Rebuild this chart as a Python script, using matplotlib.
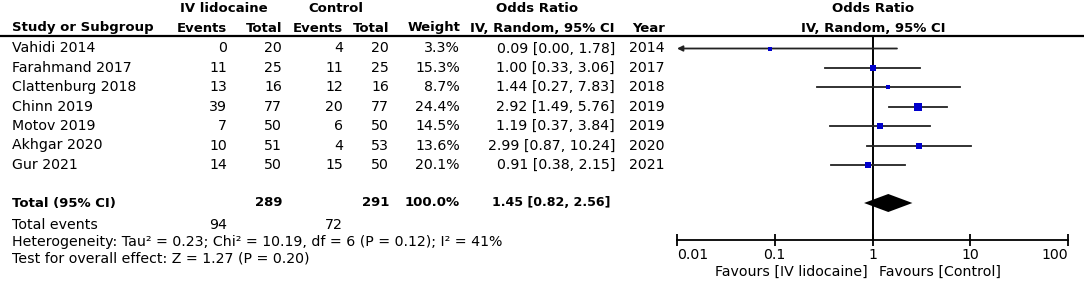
import matplotlib
matplotlib.use("Agg")
import matplotlib.pyplot as plt
import numpy as np

studies = ["Vahidi 2014", "Farahmand 2017", "Clattenburg 2018", "Chinn 2019",
           "Motov 2019", "Akhgar 2020", "Gur 2021"]
ev_lido = [0, 11, 13, 39, 7, 10, 14]
tot_lido = [20, 25, 16, 77, 50, 51, 50]
ev_ctrl = [4, 11, 12, 20, 6, 4, 15]
tot_ctrl = [20, 25, 16, 77, 50, 53, 50]
weights = [3.3, 15.3, 8.7, 24.4, 14.5, 13.6, 20.1]
odds = [0.09, 1.00, 1.44, 2.92, 1.19, 2.99, 0.91]
ci_lo = [0.00, 0.33, 0.27, 1.49, 0.37, 0.87, 0.38]
ci_hi = [1.78, 3.06, 7.83, 5.76, 3.84, 10.24, 2.15]
years = [2014, 2017, 2018, 2019, 2019, 2020, 2021]

total_or, total_lo, total_hi = 1.45, 0.82, 2.56
total_n = [289, 291]
total_weight = 100.0
total_events = [94, 72]
het_text = "Heterogeneity: Tau² = 0.23; Chi² = 10.19, df = 6 (P = 0.12); I² = 41%"
effect_text = "Test for overall effect: Z = 1.27 (P = 0.20)"
ticks = [0.01, 0.1, 1, 10, 100]
tick_labels = ["0.01", "0.1", "1", "10", "100"]

W, H = 1084, 281
FS = 10.2    # regular text
FSB = 9.5    # bold text
plt.rcParams['font.family'] = ['DejaVu Sans']

fig = plt.figure(figsize=(W / 100, H / 100), dpi=100)
tab = fig.add_axes([0, 0, 1, 1])
tab.set_xlim(0, W)
tab.set_ylim(H, 0)
tab.axis("off")

row0, step = 48.5, 19.4
rows = [row0 + i * step for i in range(len(studies))]
y_total = 203
y_foot = [225, 242, 259]

def t(x, y, s, ha="right", bold=False, size=None):
    if size is None:
        size = FSB if bold else FS
    tab.text(x, y, s, ha=ha, va="center", fontsize=size,
             fontweight="bold" if bold else "normal")

# headers
t(224, 9, "IV lidocaine", ha="center", bold=True)
t(336, 9, "Control", ha="center", bold=True)
t(537, 9, "Odds Ratio", ha="center", bold=True)
t(873, 9, "Odds Ratio", ha="center", bold=True)
t(12, 28, "Study or Subgroup", ha="left", bold=True)
cols = [227, 282, 343, 389, 460, 615, 665]
for x, s in zip(cols, ["Events", "Total", "Events", "Total", "Weight",
                       "IV, Random, 95% CI", "Year"]):
    t(x, 28, s, bold=True)
t(873, 28, "IV, Random, 95% CI", ha="center", bold=True)
tab.plot([0, W], [36, 36], color="black", lw=1.6)

for i, y in enumerate(rows):
    t(12, y, studies[i], ha="left")
    t(cols[0], y, str(ev_lido[i]))
    t(cols[1], y, str(tot_lido[i]))
    t(cols[2], y, str(ev_ctrl[i]))
    t(cols[3], y, str(tot_ctrl[i]))
    t(cols[4], y, f"{weights[i]:.1f}%")
    t(cols[5], y, f"{odds[i]:.2f} [{ci_lo[i]:.2f}, {ci_hi[i]:.2f}]")
    t(cols[6], y, str(years[i]))

t(12, y_total, "Total (95% CI)", ha="left", bold=True)
t(cols[1], y_total, str(total_n[0]), bold=True)
t(cols[3], y_total, str(total_n[1]), bold=True)
t(cols[4], y_total, f"{total_weight:.1f}%", bold=True)
t(611, y_total, f"{total_or:.2f} [{total_lo:.2f}, {total_hi:.2f}]", bold=True, size=9.1)
t(12, y_foot[0], "Total events", ha="left")
t(cols[0], y_foot[0], str(total_events[0]))
t(cols[2], y_foot[0], str(total_events[1]))
t(12, y_foot[1], het_text, ha="left")
t(12, y_foot[2], effect_text, ha="left")

# forest plot
x0, x1 = 677, 1068
ax = fig.add_axes([x0 / W, 0, (x1 - x0) / W, 1])
ax.patch.set_alpha(0)
ax.set_xscale("log")
ax.set_xlim(ticks[0], ticks[-1])
ax.set_ylim(H, 0)
y_axis = 240
for s in ["top", "right", "left"]:
    ax.spines[s].set_visible(False)
ax.spines["bottom"].set_position(("data", y_axis))
ax.spines["bottom"].set_linewidth(1.3)
ax.set_yticks([])
ax.set_xticks(ticks)
ax.xaxis.set_minor_locator(matplotlib.ticker.NullLocator())
ax.set_xticklabels(tick_labels, fontsize=FS)
labs = ax.get_xticklabels()
labs[0].set_ha("left")
labs[-1].set_ha("right")
ax.tick_params(axis="x", direction="inout", length=9, width=1.3, pad=1)

ax.plot([1, 1], [36, y_axis], color="black", lw=1.4)

for i, y in enumerate(rows):
    lo = ci_lo[i]
    if lo < ticks[0]:
        ax.annotate("", xy=(ticks[0], y), xytext=(ci_hi[i], y),
                    arrowprops=dict(arrowstyle="-|>", color="#222222", lw=1.3,
                                    shrinkA=0, shrinkB=0, mutation_scale=8))
    else:
        ax.plot([lo, ci_hi[i]], [y, y], color="#222222", lw=1.3)
    side = max(7.5 * np.sqrt(weights[i] / max(weights)), 3.2)
    ax.plot(odds[i], y, marker="s", color="#0000cc", ms=side * 0.72,
            mew=0, linestyle="none", zorder=3)

dh = 9
ax.fill([total_lo, total_or, total_hi, total_or],
        [y_total, y_total - dh, y_total, y_total + dh], color="black", lw=0)

tab.text(868, 272, "Favours [IV lidocaine]", ha="right", va="center", fontsize=FS)
tab.text(879, 272, "Favours [Control]", ha="left", va="center", fontsize=FS)

fig.savefig("out.png", dpi=100)
